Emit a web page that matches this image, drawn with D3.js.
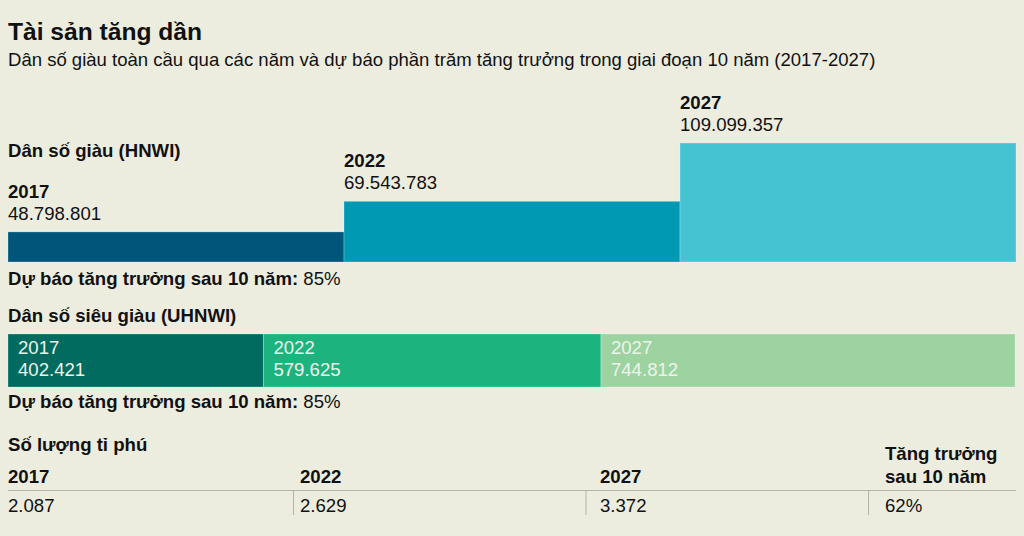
<!DOCTYPE html>
<html><head><meta charset="utf-8">
<script src="https://cdn.jsdelivr.net/npm/d3@7"></script>
<style>
html,body{margin:0;padding:0;background:#ECEDDF;}
svg{display:block;font-family:"Liberation Sans",Arial,Helvetica,sans-serif;}
</style></head><body>
<svg id="chart" width="1024" height="536"></svg>
<script>
// ---- data ----
const years = ["2017", "2022", "2027"];
const hnwiValues = [48798801, 69543783, 109099357];
const uhnwiValues = [402421, 579625, 744812];
const billionaireValues = [2087, 2629, 3372];
const hnwiGrowth = "85%";
const uhnwiGrowth = "85%";
const billionaireGrowth = "62%";

const title = "Tài sản tăng dần";
const subtitle = "Dân số giàu toàn cầu qua các năm và dự báo phần trăm tăng trưởng trong giai đoạn 10 năm (2017-2027)";
const hnwiLabel = "Dân số giàu (HNWI)";
const uhnwiLabel = "Dân số siêu giàu (UHNWI)";
const billionaireLabel = "Số lượng tỉ phú";
const growthLabel = "Dự báo tăng trưởng sau 10 năm: ";
const growthHeader = ["Tăng trưởng", "sau 10 năm"];

// ---- styles ----
const hnwiColors = ["#01557A", "#0099B3", "#46C3D2"];
const uhnwiColors = ["#006B5E", "#1CB37F", "#9CD3A0"];
const ink = "#111111";
const fs = 18.6;

const vn = d3.formatLocale({decimal: ",", thousands: ".", grouping: [3], currency: ["", ""]});
const fmt = vn.format(",d");

const svg = d3.select("#chart");
const left = 8, right = 1016;

// title
svg.append("text").attr("x", left).attr("y", 40).attr("font-size", 24.6).attr("font-weight", "bold")
  .attr("fill", ink).text(title);
svg.append("text").attr("x", left).attr("y", 66).attr("font-size", 18.55)
  .attr("fill", ink).text(subtitle);

// ---- HNWI step bars ----
const baseY = 262;
const x = d3.scaleBand().domain(years).range([left, right]).padding(0);
const h = d3.scaleLinear().domain([28.4e6, d3.max(hnwiValues)]).range([0, 119]);
const hnwi = years.map((y, i) => ({year: y, value: hnwiValues[i]}));

svg.append("text").attr("x", left).attr("y", 157).attr("font-size", fs).attr("font-weight", "bold")
  .attr("fill", ink).text(hnwiLabel);

const hg = svg.append("g");
hg.selectAll("rect").data(hnwi).join("rect")
  .attr("x", d => x(d.year))
  .attr("y", d => baseY - h(d.value))
  .attr("width", x.bandwidth())
  .attr("height", d => h(d.value))
  .attr("fill", (d, i) => hnwiColors[i])
  .attr("stroke", "rgba(255,255,255,0.25)").attr("stroke-width", 1);
hg.selectAll("text.yr").data(hnwi).join("text").attr("class", "yr")
  .attr("x", d => x(d.year)).attr("y", d => baseY - h(d.value) - 34)
  .attr("font-size", fs).attr("font-weight", "bold").attr("fill", ink).text(d => d.year);
hg.selectAll("text.val").data(hnwi).join("text").attr("class", "val")
  .attr("x", d => x(d.year)).attr("y", d => baseY - h(d.value) - 12)
  .attr("font-size", fs).attr("fill", ink).text(d => fmt(d.value));

const g1 = svg.append("text").attr("x", left).attr("y", 285).attr("font-size", fs).attr("fill", ink);
g1.append("tspan").attr("font-weight", "bold").text(growthLabel);
g1.append("tspan").text(hnwiGrowth);

// ---- UHNWI segmented bar ----
svg.append("text").attr("x", left).attr("y", 322).attr("font-size", fs).attr("font-weight", "bold")
  .attr("fill", ink).text(uhnwiLabel);

const w = d3.scaleLinear().domain([0, d3.max(uhnwiValues)]).range([68.9, 414.1]);
let acc = left;
const uhnwi = years.map((y, i) => {
  const d = {year: y, value: uhnwiValues[i], x0: acc, width: w(uhnwiValues[i])};
  acc += d.width;
  return d;
});
const barTop = 334, barH = 53;
const ug = svg.append("g");
ug.selectAll("rect").data(uhnwi).join("rect")
  .attr("x", d => d.x0).attr("y", barTop).attr("width", d => d.width).attr("height", barH)
  .attr("fill", (d, i) => uhnwiColors[i])
  .attr("stroke", "rgba(255,255,255,0.25)").attr("stroke-width", 1);
ug.selectAll("text.yr").data(uhnwi).join("text").attr("class", "yr")
  .attr("x", d => d.x0 + 10).attr("y", barTop + 20)
  .attr("font-size", fs).attr("fill", "#EEF4EC").text(d => d.year);
ug.selectAll("text.val").data(uhnwi).join("text").attr("class", "val")
  .attr("x", d => d.x0 + 10).attr("y", barTop + 42)
  .attr("font-size", fs).attr("fill", "#EEF4EC").text(d => fmt(d.value));

const g2 = svg.append("text").attr("x", left).attr("y", 408).attr("font-size", fs).attr("fill", ink);
g2.append("tspan").attr("font-weight", "bold").text(growthLabel);
g2.append("tspan").text(uhnwiGrowth);

// ---- billionaires table ----
svg.append("text").attr("x", left).attr("y", 451).attr("font-size", fs).attr("font-weight", "bold")
  .attr("fill", ink).text(billionaireLabel);

const colText = [8, 300, 600, 885];
const colSep = [293.5, 586, 868.5];
const lineY = 490.5;

svg.append("line").attr("x1", left).attr("x2", right).attr("y1", lineY).attr("y2", lineY)
  .attr("stroke", "#B3B4A8").attr("stroke-width", 1);
svg.selectAll("line.sep").data(colSep).join("line").attr("class", "sep")
  .attr("x1", d => d).attr("x2", d => d).attr("y1", lineY).attr("y2", 515)
  .attr("stroke", "#B3B4A8").attr("stroke-width", 1);

const tb = years.map((y, i) => ({year: y, value: billionaireValues[i]}));
svg.selectAll("text.thead").data(tb).join("text").attr("class", "thead")
  .attr("x", (d, i) => colText[i]).attr("y", 483)
  .attr("font-size", fs).attr("font-weight", "bold").attr("fill", ink).text(d => d.year);
svg.selectAll("text.tval").data(tb).join("text").attr("class", "tval")
  .attr("x", (d, i) => colText[i]).attr("y", 512)
  .attr("font-size", fs).attr("fill", ink).text(d => fmt(d.value));
svg.selectAll("text.ghead").data(growthHeader).join("text").attr("class", "ghead")
  .attr("x", colText[3]).attr("y", (d, i) => 460 + i * 22.5)
  .attr("font-size", fs).attr("font-weight", "bold").attr("fill", ink).text(d => d);
svg.append("text").attr("x", colText[3]).attr("y", 512)
  .attr("font-size", fs).attr("fill", ink).text(billionaireGrowth);
</script>
</body></html>
